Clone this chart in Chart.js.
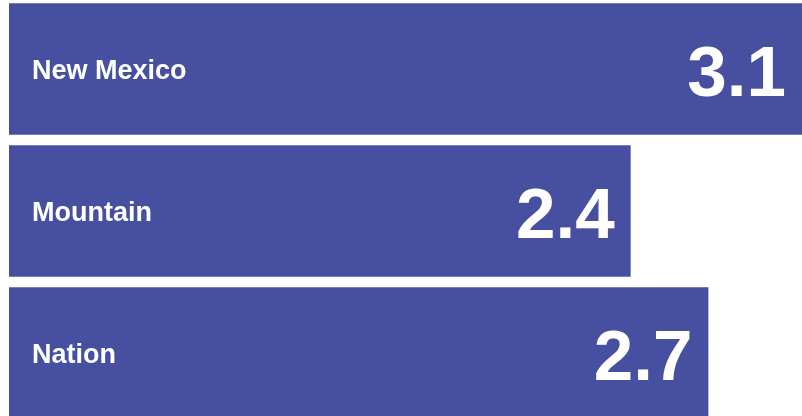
<!DOCTYPE html>
<html>
<head>
<meta charset="utf-8">
<script src="https://cdn.jsdelivr.net/npm/chart.js@4"></script>
<style>
  html, body { margin: 0; padding: 0; background: #fff; overflow: hidden; }
  body { width: 802px; height: 416px; position: relative; }
  /* the plot runs a little past the window edges, like the original */
  #wrap { position: absolute; left: 0; top: -2px; width: 812px; height: 426px; }
</style>
</head>
<body>
<div id="wrap"><canvas id="barChart"></canvas></div>
<script>
const regions = ["New Mexico", "Mountain", "Nation"];
const rates = [3.1, 2.4, 2.7];

const barColor = "#4750a0";
const visibleRight = 802;

// writes the region name at the left and the value at the right end of each bar
const insideLabels = {
  id: "insideLabels",
  afterDatasetsDraw(chart) {
    const ctx = chart.ctx;
    const meta = chart.getDatasetMeta(0);
    ctx.save();
    ctx.fillStyle = "#ffffff";
    meta.data.forEach((bar, i) => {
      ctx.textBaseline = "alphabetic";
      ctx.font = "bold 27px 'Liberation Sans', Arial, sans-serif";
      ctx.textAlign = "left";
      ctx.fillText(regions[i], bar.base + 23, bar.y + 10);

      // keep the value inside the window when the bar runs off the edge
      const end = Math.min(bar.x, visibleRight);
      ctx.font = "bold 71px 'Liberation Sans', Arial, sans-serif";
      ctx.textAlign = "right";
      ctx.fillText(rates[i].toFixed(1), end - 16, bar.y + 27);
    });
    ctx.restore();
  }
};

new Chart(document.getElementById("barChart"), {
  type: "bar",
  data: {
    labels: regions,
    datasets: [{
      data: rates,
      backgroundColor: barColor,
      borderWidth: 0,
      barPercentage: 0.925,
      categoryPercentage: 1
    }]
  },
  options: {
    indexAxis: "y",
    responsive: true,
    maintainAspectRatio: false,
    animation: false,
    layout: { padding: { left: 9, right: 0, top: 0, bottom: 0 } },
    plugins: {
      legend: { display: false },
      tooltip: { enabled: false }
    },
    scales: {
      x: { display: false, min: 0, max: 3.1 },
      y: { display: false }
    }
  },
  plugins: [insideLabels]
});
</script>
</body>
</html>
